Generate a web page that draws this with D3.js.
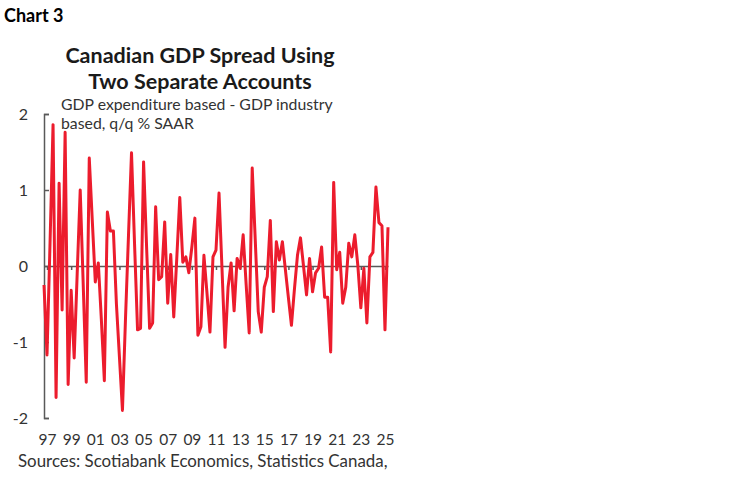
<!DOCTYPE html>
<html>
<head>
<meta charset="utf-8">
<script src="https://cdn.jsdelivr.net/npm/d3@7"></script>
<style>
  body { margin: 0; background: #fff; }
  text { font-family: Lato, "Open Sans", sans-serif; }
</style>
</head>
<body>
<svg id="chart" width="748" height="483"></svg>
<script>
// quarterly spread, 1996Q4 .. 2025Q2
const START_YEAR = 1996;
const START_QUARTER = 4;
const spread = [
    -0.25, -1.17, 0.30, 1.86, -1.73, 1.09, -0.58, 1.76, -1.56, -0.32,
    -1.21, -0.10, 1.00, -0.25, -1.53, 1.42, 0.60, -0.21, 0.04, -0.70,
    -1.51, 0.71, 0.46, 0.46, -0.50, -1.20, -1.90, -0.70, 0.40, 1.49,
    0.30, -0.84, -0.82, 1.37, 0.25, -0.82, -0.75, 0.78, -0.18, -0.14,
    0.58, -0.49, 0.15, -0.67, 0.10, 0.90, 0.05, 0.12, -0.09, 0.25,
    0.63, -0.91, -0.80, 0.14, -0.35, -0.87, 0.12, 0.21, 0.96, -0.05,
    -1.07, -0.28, 0.04, -0.59, 0.10, -0.03, 0.41, -0.25, -0.88, 1.29,
    0.35, -0.60, -0.87, -0.28, -0.14, 0.60, -0.60, 0.32, 0.08, 0.32,
    -0.05, -0.42, -0.78, -0.30, 0.14, 0.37, 0.00, -0.38, 0.10, -0.34,
    -0.09, -0.03, 0.25, -0.41, -0.41, -1.13, 1.10, -0.05, 0.18, -0.49,
    -0.28, 0.30, 0.12, 0.41, 0.01, -0.55, -0.03, -0.75, 0.12, 0.18,
    1.04, 0.57, 0.53, -0.84, 0.51
];
const quarters = spread.map((d, i) => {
    const q = START_QUARTER - 1 + i;
    return (START_YEAR + Math.floor(q / 4)) + 'Q' + (q % 4 + 1);
});

const tickYears = [1997, 1999, 2001, 2003, 2005, 2007, 2009, 2011, 2013, 2015, 2017, 2019, 2021, 2023, 2025];
const tickLabels = ['97', '99', '01', '03', '05', '07', '09', '11', '13', '15', '17', '19', '21', '23', '25'];
const yTicks = [2, 1, 0, -1, -2];

const TITLE_LINES = ['Canadian GDP Spread Using', 'Two Separate Accounts'];
const SUBTITLE_LINES = ['GDP expenditure based - GDP industry', 'based, q/q % SAAR'];
const SOURCE = 'Sources: Scotiabank Economics, Statistics Canada,';

const root = d3.select('#chart');

const PLOT_LEFT = 44;
const PLOT_RIGHT = 388;
const PLOT_TOP = 114;
const PLOT_BOTTOM = 418;

const RED = '#ec1c2d';
const AXIS_GREY = '#595959';
const TEXT_GREY = '#333';

const x = d3.scaleLinear()
    .domain([0, spread.length - 1])
    .range([PLOT_LEFT, PLOT_RIGHT]);

const y = d3.scaleLinear()
    .domain([-2, 2])
    .range([PLOT_BOTTOM, PLOT_TOP]);

// year label sits on the Q1 of that year
const yearIndex = yr => quarters.indexOf(yr + 'Q1');

drawHeader();
drawAxes();
drawLine();
drawFooter();

function drawHeader() {
    root.append('text')
        .text('Chart 3')
        .attr('x', 4)
        .attr('y', 22)
        .attr('font-size', 18)
        .attr('font-weight', 700)
        .attr('fill', '#000');

    TITLE_LINES.forEach((line, i) => {
        root.append('text')
            .text(line)
            .attr('x', 200)
            .attr('y', 63 + i * 26)
            .attr('font-size', 21.5)
            .attr('font-weight', 700)
            .attr('fill', '#1a1a1a')
            .attr('text-anchor', 'middle');
    });

    SUBTITLE_LINES.forEach((line, i) => {
        root.append('text')
            .text(line)
            .attr('x', 61)
            .attr('y', 109.5 + i * 19)
            .attr('font-size', 15.8)
            .attr('fill', TEXT_GREY);
    });
}

function drawAxes() {
    const yAxis = d3.axisLeft(y)
        .tickValues(yTicks)
        .tickFormat(d => String(d))
        .tickSizeInner(-5)
        .tickSizeOuter(-5)
        .tickPadding(16);

    const gy = root.append('g')
        .attr('transform', `translate(${PLOT_LEFT},0)`)
        .call(yAxis);
    gy.selectAll('path, line')
        .attr('stroke', AXIS_GREY)
        .attr('stroke-width', 1.5);
    gy.selectAll('text')
        .attr('font-family', 'Lato, "Open Sans", sans-serif')
        .attr('font-size', 16)
        .attr('fill', TEXT_GREY);

    // zero line with small ticks at each labelled year
    const xAxis = d3.axisBottom(x)
        .tickValues(tickYears.map(yearIndex))
        .tickSizeInner(4)
        .tickSizeOuter(0)
        .tickFormat('');

    const gx = root.append('g')
        .attr('transform', `translate(0,${y(0)})`)
        .call(xAxis);
    gx.selectAll('path, line')
        .attr('stroke', AXIS_GREY)
        .attr('stroke-width', 1.5);

    // year labels along the bottom
    const labelAxis = d3.axisBottom(x)
        .tickValues(tickYears.map(yearIndex))
        .tickSize(0)
        .tickPadding(0)
        .tickFormat((d, i) => tickLabels[i]);

    const gl = root.append('g')
        .attr('transform', `translate(0,434)`)
        .call(labelAxis);
    gl.select('.domain').remove();
    gl.selectAll('text')
        .attr('font-family', 'Lato, "Open Sans", sans-serif')
        .attr('font-size', 15.5)
        .attr('fill', TEXT_GREY);
}

function drawLine() {
    const line = d3.line()
        .x((d, i) => x(i))
        .y(d => y(d));

    root.append('path')
        .datum(spread)
        .attr('d', line)
        .attr('fill', 'none')
        .attr('stroke', RED)
        .attr('stroke-width', 3)
        .attr('stroke-linejoin', 'round');
}

function drawFooter() {
    root.append('text')
        .text(SOURCE)
        .attr('x', 18)
        .attr('y', 467)
        .attr('font-size', 16.9)
        .attr('fill', TEXT_GREY);
}
</script>
</body>
</html>
